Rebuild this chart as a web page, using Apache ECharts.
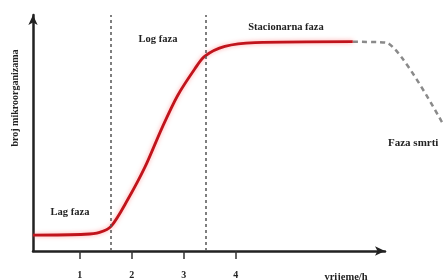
<!DOCTYPE html>
<html>
<head>
<meta charset="utf-8">
<script src="https://cdn.jsdelivr.net/npm/echarts@6/dist/echarts.min.js"></script>
<style>
  html, body { margin: 0; padding: 0; background: #fff; }
  #chart { width: 443px; height: 280px; }
</style>
</head>
<body>
<div id="chart"></div>
<script>
// rastuca krivulja (crveno): vrijeme / broj
const growthX = [0.1, 1.1, 1.38, 1.6, 1.92, 2.25, 2.58, 2.88, 3.21, 3.4, 3.79, 4.37, 6.25];
const growthY = [0.67, 0.71, 0.79, 1.04, 2.17, 3.54, 5.21, 6.58, 7.71, 8.25, 8.67, 8.83, 8.875];
// faza smrti (sivo, isprekidano)
const deathX = [6.25, 6.9, 7.98];
const deathY = [8.875, 8.83, 5.42];
// granice faza
const phaseLines = [1.6, 3.42];
const tickValues = [1, 2, 3, 4];

const font = 'Liberation Serif';

const chart = echarts.init(document.getElementById('chart'));

const hiddenAxis = {
  show: false,
  splitLine: { show: false }
};

const option = {
  animation: false,
  grid: [
    { left: 33, right: 58, top: 15, bottom: 27 },
    { left: 33, right: 0, top: 15, bottom: 27 }
  ],
  xAxis: [
    {
      type: 'value',
      gridIndex: 0,
      min: 0.1,
      max: 6.87,
      splitLine: { show: false },
      axisLine: {
        show: true,
        symbol: ['none', 'arrow'],
        symbolSize: [7, 10],
        lineStyle: { color: '#222', width: 2.5 }
      },
      axisTick: {
        show: true,
        customValues: tickValues,
        length: 8,
        lineStyle: { color: '#333', width: 1.5 }
      },
      axisLabel: {
        customValues: tickValues,
        margin: 19,
        color: '#222',
        fontFamily: font,
        fontWeight: 'bold',
        fontSize: 10
      }
    },
    Object.assign({ type: 'value', gridIndex: 1, min: 0.1, max: 7.98 }, hiddenAxis)
  ],
  yAxis: [
    {
      type: 'value',
      gridIndex: 0,
      min: 0,
      max: 10,
      splitLine: { show: false },
      axisLabel: { show: false },
      axisTick: { show: false },
      axisLine: {
        show: true,
        symbol: ['none', 'arrow'],
        symbolSize: [7, 10],
        lineStyle: { color: '#222', width: 2.5 }
      }
    },
    Object.assign({ type: 'value', gridIndex: 1, min: 0, max: 10 }, hiddenAxis)
  ],
  series: [
    {
      type: 'line',
      xAxisIndex: 1,
      yAxisIndex: 1,
      data: deathX.map((x, i) => [x, deathY[i]]),
      showSymbol: false,
      smooth: 0.2,
      lineStyle: { color: '#8a8a8a', width: 2.5, type: [5, 4] },
      z: 2
    },
    {
      type: 'line',
      data: growthX.map((x, i) => [x, growthY[i]]),
      showSymbol: false,
      smooth: 0.3,
      lineStyle: {
        color: '#c0141c',
        width: 2.8,
        shadowColor: 'rgba(255,90,90,0.55)',
        shadowBlur: 4
      },
      markLine: {
        silent: true,
        symbol: 'none',
        label: { show: false },
        lineStyle: { color: '#555', width: 1.5, type: [3, 3] },
        data: phaseLines.map(x => ({ xAxis: x }))
      },
      z: 3
    }
  ],
  graphic: [
    {
      type: 'text', x: 15, y: 98, rotation: Math.PI / 2,
      style: {
        text: 'broj mikroorganizama', fill: '#222',
        font: 'bold 10px ' + font, align: 'center', verticalAlign: 'middle'
      }
    },
    {
      type: 'text', x: 70, y: 212,
      style: { text: 'Lag faza', fill: '#222', font: 'bold 10.5px ' + font, align: 'center', verticalAlign: 'middle' }
    },
    {
      type: 'text', x: 158, y: 39,
      style: { text: 'Log faza', fill: '#222', font: 'bold 10.5px ' + font, align: 'center', verticalAlign: 'middle' }
    },
    {
      type: 'text', x: 286, y: 27,
      style: { text: 'Stacionarna faza', fill: '#222', font: 'bold 10.5px ' + font, align: 'center', verticalAlign: 'middle' }
    },
    {
      type: 'text', x: 388, y: 143,
      style: { text: 'Faza smrti', fill: '#222', font: 'bold 11px ' + font, align: 'left', verticalAlign: 'middle' }
    },
    {
      type: 'text', x: 346, y: 277,
      style: { text: 'vrijeme/h', fill: '#222', font: 'bold 10.5px ' + font, align: 'center', verticalAlign: 'middle' }
    }
  ]
};

chart.setOption(option);
</script>
</body>
</html>
